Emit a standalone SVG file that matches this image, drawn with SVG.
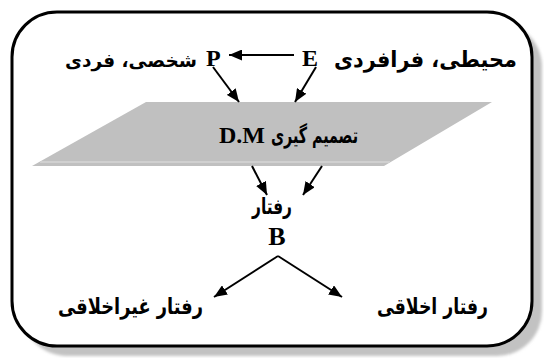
<svg xmlns="http://www.w3.org/2000/svg" width="544" height="358" viewBox="0 0 544 358">
  <style>
    .lat { font-family: "Liberation Serif", "Times New Roman", serif; font-weight: bold; fill: #000; }
    .ar { font-family: "DejaVu Sans", sans-serif; font-weight: bold; fill: #000; font-size: 22px; }
    .conn { stroke: #000; stroke-width: 2; fill: none; marker-end: url(#ah); }
  </style>
  <defs>
    <marker id="ah" markerUnits="userSpaceOnUse" markerWidth="14" markerHeight="11" refX="13" refY="5.5" orient="auto">
      <path d="M0,0 L13,5.5 L0,11 z" fill="#000"/>
    </marker>
    <filter id="blur" x="-5%" y="-5%" width="110%" height="110%">
      <feGaussianBlur stdDeviation="1.5"/>
    </filter>
  </defs>

  <g id="frame">
    <rect x="22" y="22" width="520" height="334" rx="45" ry="45" fill="#c2c2c2" filter="url(#blur)"/>
    <rect x="12" y="12" width="520" height="334" rx="45" ry="45" fill="#fff" stroke="#000" stroke-width="3"/>
  </g>

  <g id="dm">
    <polygon points="146,102 492,102 384,166 32,166" fill="#c0c0c0"/>
    <line x1="40" y1="162" x2="390" y2="162" stroke="#d0d0d0" stroke-width="2"/>
    <text class="ar" x="358" y="143" text-anchor="end" textLength="87" lengthAdjust="spacingAndGlyphs">تصمیم گیری</text>
    <text class="lat" x="219" y="143" font-size="24">D.M</text>
  </g>

  <g id="E">
    <text class="lat" x="302" y="66" font-size="24">E</text>
    <text class="ar" x="517" y="67" text-anchor="end" textLength="183" lengthAdjust="spacingAndGlyphs">محیطی، فرافردی</text>
  </g>

  <g id="P">
    <text class="lat" x="206" y="66" font-size="24">P</text>
    <text class="ar" x="197" y="67" text-anchor="end" style="font-size:18.5px">شخصی، فردی</text>
  </g>

  <g id="B">
    <text class="ar" x="272" y="214" text-anchor="middle" textLength="40" lengthAdjust="spacingAndGlyphs">رفتار</text>
    <text class="lat" x="277" y="245" font-size="26" text-anchor="middle">B</text>
  </g>

  <g id="unethical">
    <text class="ar" x="203" y="314" text-anchor="end" textLength="145" lengthAdjust="spacingAndGlyphs">رفتار غیراخلاقی</text>
  </g>

  <g id="ethical">
    <text class="ar" x="488" y="314" text-anchor="end" textLength="111" lengthAdjust="spacingAndGlyphs">رفتار اخلاقی</text>
  </g>

  <g id="connectors">
    <line class="conn" x1="294" y1="55" x2="229" y2="55"/>
    <line class="conn" x1="213" y1="67" x2="239" y2="102"/>
    <line class="conn" x1="316" y1="67" x2="295" y2="102"/>
    <line class="conn" x1="252" y1="166" x2="267" y2="195"/>
    <line class="conn" x1="322" y1="166" x2="303" y2="195"/>
    <line class="conn" x1="278" y1="256" x2="214" y2="297"/>
    <line class="conn" x1="278" y1="256" x2="342" y2="297"/>
  </g>
</svg>
